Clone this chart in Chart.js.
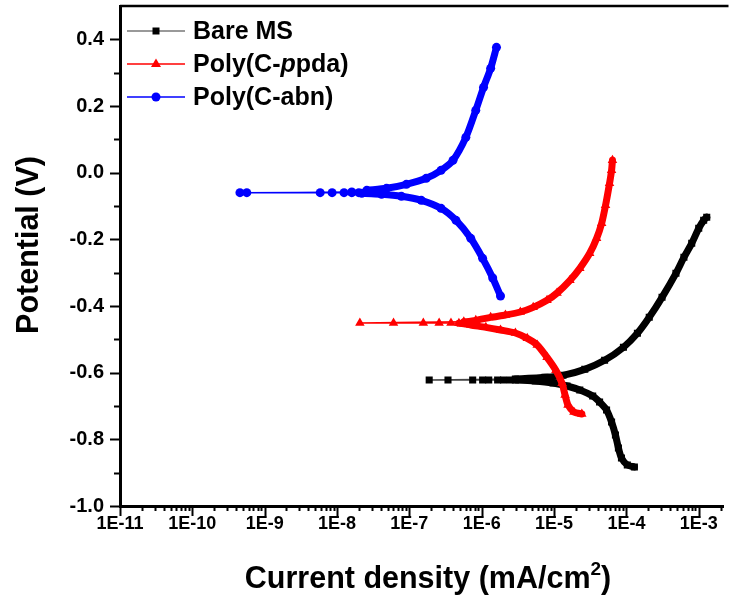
<!DOCTYPE html>
<html lang="en">
  <head>
    <meta charset="UTF-8" />
    <title>Tafel plot</title>
    <script src="https://cdn.jsdelivr.net/npm/chart.js@4"></script>
    <style>
      body { margin: 0; background: #fff; }
    </style>
  </head>
  <body>
    <canvas id="tafelChart" width="729" height="598"></canvas>

    <script>
      // tick labels
      var xTickValues = [1e-11, 1e-10, 1e-9, 1e-8, 1e-7, 1e-6, 1e-5, 1e-4, 1e-3];
      var xTickLabels = ["1E-11", "1E-10", "1E-9", "1E-8", "1E-7", "1E-6", "1E-5", "1E-4", "1E-3"];
      var yTickValues = [-1.0, -0.8, -0.6, -0.4, -0.2, 0.0, 0.2, 0.4];
      var yTickLabels = ["-1.0", "-0.8", "-0.6", "-0.4", "-0.2", "0.0", "0.2", "0.4"];

      // Bare MS (current in mA/cm2, potential in V)
      var bareCurrent = [1.29e-4, 1.03e-4, 8.55e-5, 7.76e-5, 7.06e-5, 6.24e-5, 5.32e-5, 4.26e-5, 3.42e-5, 2.27e-5,
        1.51e-5, 9.7e-6, 5.5e-6, 2.92e-6, 2.49e-6, 2.0e-6, 1.66e-6, 1.25e-6, 1.03e-6, 7.5e-7, 3.42e-7, 1.88e-7,
        2.92e-6, 7.5e-6, 1.33e-5, 2.66e-5, 5.0e-5, 9.1e-5, 1.42e-4, 2.07e-4, 3.11e-4, 4.84e-4, 6.24e-4, 8.0e-4,
        1.0e-3, 1.17e-3, 1.29e-3];
      var barePotential = [-0.883, -0.877, -0.856, -0.826, -0.787, -0.748, -0.712, -0.688, -0.670, -0.652,
        -0.640, -0.631, -0.625, -0.622, -0.622, -0.622, -0.622, -0.622, -0.622, -0.622, -0.622, -0.622,
        -0.619, -0.614, -0.608, -0.590, -0.563, -0.524, -0.482, -0.434, -0.374, -0.302, -0.254, -0.212,
        -0.167, -0.143, -0.134];

      // Poly(C-ppda)
      var ppdaCurrent = [2.42e-5, 1.88e-5, 1.56e-5, 1.42e-5, 1.29e-5, 1.06e-5, 8.0e-6, 5.85e-6, 4.26e-6, 2.92e-6,
        1.82e-6, 1.14e-6, 7.06e-7, 6.42e-7, 5.66e-7, 4.84e-7, 3.76e-7, 2.58e-7, 1.56e-7, 6.04e-8, 2.07e-8,
        5.66e-7, 8.28e-7, 1.33e-6, 2.13e-6, 3.42e-6, 5.15e-6, 8.0e-6, 1.1e-5, 1.66e-5, 2.27e-5, 3.11e-5,
        3.88e-5, 4.55e-5, 5.15e-5, 5.85e-5, 6.24e-5, 6.42e-5];
      var ppdaPotential = [-0.724, -0.718, -0.697, -0.667, -0.632, -0.593, -0.554, -0.517, -0.497, -0.481,
        -0.472, -0.464, -0.457, -0.455, -0.453, -0.452, -0.451, -0.451, -0.451, -0.451, -0.451,
        -0.447, -0.443, -0.434, -0.427, -0.418, -0.404, -0.383, -0.361, -0.323, -0.287, -0.242,
        -0.197, -0.152, -0.098, -0.032, 0.007, 0.037];

      // Poly(C-abn)
      var abnCurrent = [1.82e-6, 1.42e-6, 1.03e-6, 7.06e-7, 4.41e-7, 2.74e-7, 1.46e-7, 7.76e-8, 4.13e-8, 2.2e-8,
        2.0e-8, 1.6e-8, 1.25e-8, 8.55e-9, 5.85e-9, 5.66e-10, 4.55e-10,
        1.6e-8, 2.58e-8, 4.84e-8, 9.1e-8, 1.71e-7, 2.74e-7, 4.01e-7, 6.04e-7, 8.28e-7, 1.06e-6, 1.33e-6, 1.6e-6];
      var abnPotential = [-0.370, -0.316, -0.257, -0.197, -0.143, -0.107, -0.083, -0.071, -0.065, -0.062,
        -0.060, -0.060, -0.060, -0.060, -0.060, -0.060, -0.060,
        -0.058, -0.053, -0.047, -0.035, -0.017, 0.007, 0.037, 0.106, 0.187, 0.256, 0.313, 0.376];

      var FONT = "'Liberation Sans', Arial, sans-serif";

      function toPoints(xs, ys) {
        return xs.map(function (x, i) {
          return { x: x, y: ys[i] };
        });
      }

      // thick where the markers sit so close they merge into one band
      function makeSeries(label, current, potential, color, thinColor, style, radius, dense, order) {
        return {
          label: label,
          data: toPoints(current, potential),
          borderColor: color,
          backgroundColor: color,
          borderWidth: 7,
          borderJoinStyle: "round",
          borderCapStyle: "round",
          pointStyle: style,
          pointRadius: radius,
          pointBorderWidth: 0,
          pointBackgroundColor: color,
          tension: 0.25,
          order: order,
          segment: {
            borderWidth: function (ctx) {
              var a = current[ctx.p0DataIndex], b = current[ctx.p1DataIndex];
              return Math.min(a, b) >= dense ? 7 : 1.5;
            },
            borderColor: function (ctx) {
              var a = current[ctx.p0DataIndex], b = current[ctx.p1DataIndex];
              return Math.min(a, b) >= dense ? color : thinColor;
            },
          },
        };
      }

      var decorations = {
        id: "decorations",
        afterDraw: function (chart) {
          var ctx = chart.ctx;
          var area = chart.chartArea;
          var xs = chart.scales.x;
          var ys = chart.scales.y;
          ctx.save();
          ctx.strokeStyle = "#000";

          // top frame line
          ctx.lineWidth = 2.5;
          ctx.beginPath();
          ctx.moveTo(area.left, area.top);
          ctx.lineTo(area.right + 5, area.top);
          ctx.stroke();

          // y ticks (outward)
          ctx.lineWidth = 2;
          for (var v = -10; v <= 4; v++) {
            var py = Math.round(ys.getPixelForValue(v / 10)) + 0.5;
            var len = v % 2 === 0 ? 9 : 5;
            ctx.beginPath();
            ctx.moveTo(area.left - 1, py);
            ctx.lineTo(area.left - 1 - len, py);
            ctx.stroke();
          }

          // x ticks (outward)
          for (var d = -11; d <= -3; d++) {
            for (var k = 1; k <= 9; k++) {
              var val = k * Math.pow(10, d);
              if (val > xs.max) break;
              var px = Math.round(xs.getPixelForValue(val)) + 0.5;
              var tl = k === 1 ? 9 : 4;
              ctx.beginPath();
              ctx.moveTo(px, area.bottom + 1);
              ctx.lineTo(px, area.bottom + 1 + tl);
              ctx.stroke();
            }
          }

          // axis titles
          ctx.fillStyle = "#000";
          ctx.font = "bold 30.5px " + FONT;
          ctx.textBaseline = "middle";
          ctx.save();
          ctx.translate(30, 245);
          ctx.rotate(-Math.PI / 2);
          ctx.textAlign = "center";
          ctx.fillText("Potential (V)", 0, 0);
          ctx.restore();

          var t1 = "Current density (mA/cm";
          var t2 = "2";
          var t3 = ")";
          ctx.font = "bold 30.5px " + FONT;
          var w1 = ctx.measureText(t1).width;
          var w3 = ctx.measureText(t3).width;
          ctx.font = "bold 19px " + FONT;
          var w2 = ctx.measureText(t2).width;
          var startX = 428 - (w1 + w2 + w3) / 2;
          ctx.textAlign = "left";
          ctx.textBaseline = "alphabetic";
          ctx.font = "bold 30.5px " + FONT;
          ctx.fillText(t1, startX, 588);
          ctx.font = "bold 19px " + FONT;
          ctx.fillText(t2, startX + w1, 575);
          ctx.font = "bold 30.5px " + FONT;
          ctx.fillText(t3, startX + w1 + w2, 588);

          // legend
          var rows = [31, 64, 97];
          var lineCols = ["#777", "#ff0000", "#0000ff"];
          var markCols = ["#000", "#ff0000", "#0000ff"];
          ctx.lineWidth = 1.5;
          for (var i = 0; i < 3; i++) {
            var y = rows[i];
            ctx.strokeStyle = lineCols[i];
            ctx.beginPath();
            ctx.moveTo(127, y);
            ctx.lineTo(185, y);
            ctx.stroke();
            ctx.fillStyle = markCols[i];
            ctx.beginPath();
            if (i === 0) {
              ctx.rect(152.5, y - 3.5, 7, 7);
            } else if (i === 1) {
              ctx.moveTo(156, y - 5.5);
              ctx.lineTo(161, y + 3);
              ctx.lineTo(151, y + 3);
              ctx.closePath();
            } else {
              ctx.arc(156, y, 4.5, 0, Math.PI * 2);
            }
            ctx.fill();
          }
          ctx.fillStyle = "#000";
          ctx.textBaseline = "middle";
          ctx.textAlign = "left";
          ctx.font = "bold 25px " + FONT;
          ctx.fillText("Bare MS", 193, rows[0] + 1);
          var lx = 193;
          var parts = [["Poly(C-", "bold "], ["p", "italic bold "], ["pda)", "bold "]];
          parts.forEach(function (p) {
            ctx.font = p[1] + "25px " + FONT;
            ctx.fillText(p[0], lx, rows[1] + 1);
            lx += ctx.measureText(p[0]).width;
          });
          ctx.font = "bold 25px " + FONT;
          ctx.fillText("Poly(C-abn)", 193, rows[2] + 1);
          ctx.restore();
        },
      };

      var tafelCtx = document.getElementById("tafelChart").getContext("2d");

      var tafelChart = new Chart(tafelCtx, {
        type: "line",
        data: {
          datasets: [
            makeSeries("Bare MS", bareCurrent, barePotential, "#000000", "#444444", "rect", 5, 2.7e-6, 3),
            makeSeries("Poly(C-ppda)", ppdaCurrent, ppdaPotential, "#ff0000", "#ff0000", "triangle", 5.5, 4.8e-7, 2),
            makeSeries("Poly(C-abn)", abnCurrent, abnPotential, "#0000ff", "#0000ff", "circle", 4.5, 2.1e-8, 1),
          ],
        },
        options: {
          responsive: false,
          animation: false,
          devicePixelRatio: 1,
          layout: { padding: { top: 6, right: 0, left: 0, bottom: 0 } },
          plugins: {
            legend: { display: false },
            tooltip: { enabled: false },
          },
          scales: {
            x: {
              type: "logarithmic",
              min: 1e-11,
              max: 2.2e-3,
              grid: { display: false, drawTicks: false },
              border: { display: true, color: "#000", width: 3 },
              afterBuildTicks: function (scale) {
                scale.ticks = xTickValues.map(function (v) {
                  return { value: v };
                });
              },
              afterFit: function (scale) {
                scale.height = 92;
                scale.paddingLeft = 0;
                scale.paddingRight = 0;
              },
              ticks: {
                autoSkip: false,
                maxRotation: 0,
                padding: 7,
                color: "#000",
                font: { family: FONT, weight: "bold", size: 18 },
                callback: function (value, index) {
                  return xTickLabels[index];
                },
              },
            },
            y: {
              type: "linear",
              min: -1.0,
              max: 0.5,
              grid: { display: false, drawTicks: false },
              border: { display: true, color: "#000", width: 3 },
              afterBuildTicks: function (scale) {
                scale.ticks = yTickValues.map(function (v) {
                  return { value: v };
                });
              },
              afterFit: function (scale) {
                scale.width = 120;
                scale.paddingTop = 0;
                scale.paddingBottom = 0;
              },
              ticks: {
                padding: 16,
                color: "#000",
                font: { family: FONT, weight: "bold", size: 20 },
                callback: function (value, index) {
                  return yTickLabels[index];
                },
              },
            },
          },
        },
        plugins: [decorations],
      });
    </script>
  </body>
</html>
